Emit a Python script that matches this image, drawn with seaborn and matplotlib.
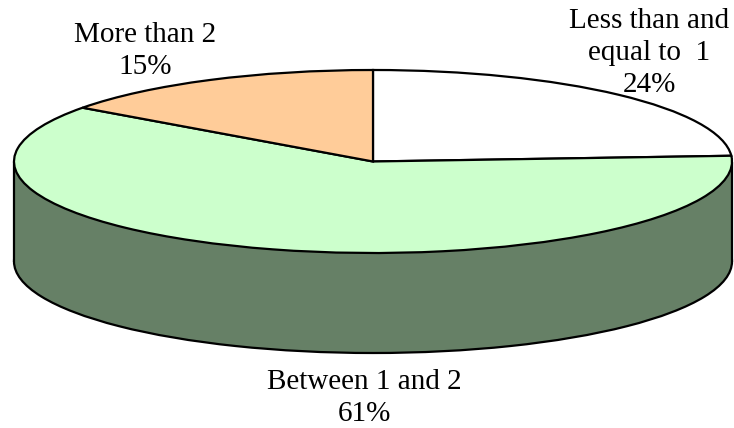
import matplotlib
matplotlib.use("Agg")
import matplotlib.pyplot as plt
from matplotlib.transforms import Affine2D
import seaborn as sns

sns.set_theme(style="white")
plt.rcParams["font.family"] = ["Liberation Serif", "DejaVu Serif"]

categories = ["Less than and\nequal to  1", "Between 1 and 2", "More than 2"]
shares = [24, 61, 15]
top_colors = ["#FFFFFF", "#CCFFCC", "#FFCC99"]
wall_color = "#668066"

WIDTH, HEIGHT = 734, 428
fig = plt.figure(figsize=(WIDTH / 100, HEIGHT / 100), dpi=100)
ax = fig.add_axes([0, 0, 1, 1])

cx, cy, rx, ry, depth = 373, 161.5, 359, 91.5, 100
edge = dict(edgecolor="black", linewidth=1.6)


def squashed(y_center):
    # Unit pie to ellipse; the vertical flip undoes the downward y axis.
    return Affine2D().scale(rx, -ry).translate(cx, y_center) + ax.transData


# Lower rim of the cylinder, a single closed disc
rim, _ = ax.pie([sum(shares)], startangle=90, radius=1, colors=[wall_color], wedgeprops=edge)
for w in rim:
    w.set_transform(squashed(cy + depth))
    w.set_clip_on(False)
    w.set_zorder(1)

# Top face, clockwise from twelve o'clock
top, _ = ax.pie(shares, startangle=90, counterclock=False, radius=1,
                colors=top_colors, wedgeprops=edge)
for w in top:
    w.set_transform(squashed(cy))
    w.set_clip_on(False)
    w.set_zorder(2)

# Axes in pixel units with y pointing downward
ax.set_aspect("auto")
ax.set_xlim(0, WIDTH)
ax.set_ylim(HEIGHT, 0)
ax.set_axis_off()

# Wall between the two rims
ax.fill_between([cx - rx, cx + rx], [cy, cy], [cy + depth, cy + depth],
                color=wall_color, linewidth=0, zorder=1.5)
ax.vlines([cx - rx, cx + rx], cy, cy + depth, color="black", linewidth=1.6, zorder=1.6)

label_positions = [(649, 53), (364, 398), (145, 51)]
for name, share, (x, y) in zip(categories, shares, label_positions):
    ax.text(x, y, f"{name}\n{share}%", ha="center", va="center",
            fontsize=21, color="black", linespacing=1.28, zorder=3)

fig.savefig("out.png", dpi=100, facecolor="white")
